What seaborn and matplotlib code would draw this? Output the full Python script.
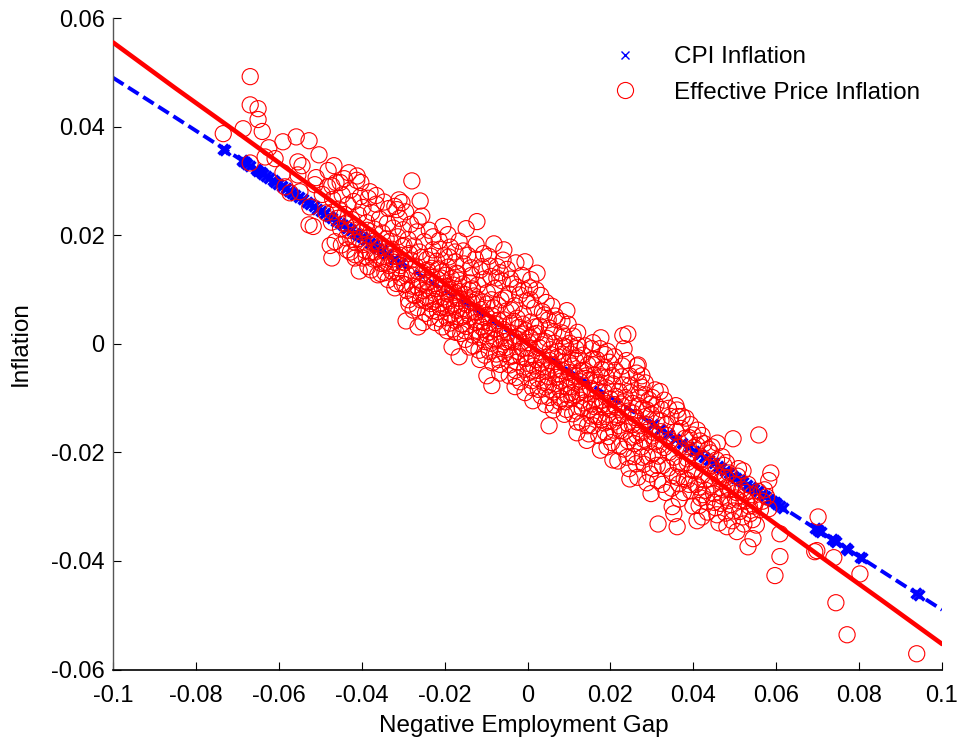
# Phillips-curve style scatter: inflation against the negative employment gap
import pandas as pd
import seaborn as sns
import matplotlib.pyplot as plt
from matplotlib.lines import Line2D

# All values below are in thousandths (0.001)
scale = 0.001

# Fitted lines
cpi_line_x = [-100, -85, -72, -60, -45, -30, -15, 0, 15, 30, 45, 60, 70, 80, 90, 100]
cpi_line_y = [49.0, 41.7, 35.3, 29.4, 22.0, 14.7, 7.4, 0.0, -7.4, -14.7, -22.0, -29.4, -34.3, -39.2, -44.1, -49.0]
eff_line_x = [-100, -85, -70, -55, -40, -25, -10, 0, 10, 25, 40, 55, 70, 85, 100]
eff_line_y = [55.5, 47.1, 38.9, 30.6, 22.2, 13.9, 5.5, 0.0, -5.5, -13.9, -22.2, -30.5, -38.8, -47.0, -55.3]

# CPI inflation points
cpi_x = [-73.4, -72.9, -68.9, -68.6, -68.2, -67.7, -66.9, -65.6, -65.1, -64.4, -63.9, -63.0, -62.4, -61.5,
         -60.8, -60.1, -59.2, -58.3, -57.6, -56.8, -56.0, -55.1, -54.2, -53.3, -52.4, -51.6, -50.7, -49.8,
         -48.9, -48.0, -47.1, -46.2, -45.3, -44.4, -43.5, -42.6, -41.7, -40.8, -39.9, -38.9, -38.0, -37.1,
         -36.2, -35.0, -33.8, -32.1, -30.4, 30.2, 32.0, 33.9, 35.7, 37.3, 38.9, 40.2, 41.5, 42.7, 43.8,
         44.9, 45.9, 46.8, 47.7, 48.6, 49.5, 50.4, 51.2, 52.1, 53.0, 53.9, 54.7, 55.6, 56.5, 57.4,
         58.3, 59.0, 59.6, 60.2, 60.9, 61.6, 69.3, 69.8, 70.3, 70.8, 73.5, 73.9, 74.4, 76.9, 77.3, 80.2, 80.7,
         93.8, 94.4]
cpi_y = [35.9, 35.7, 33.8, 33.6, 33.4, 33.2, 32.8, 32.1, 31.9, 31.6, 31.3, 30.9, 30.6, 30.1,
         29.8, 29.4, 29.0, 28.6, 28.2, 27.8, 27.4, 27.0, 26.6, 26.1, 25.7, 25.3, 24.8, 24.4,
         24.0, 23.5, 23.1, 22.6, 22.2, 21.8, 21.3, 20.9, 20.4, 20.0, 19.6, 19.1, 18.6, 18.2,
         17.7, 17.2, 16.6, 15.7, 14.9, -14.8, -15.7, -16.6, -17.5, -18.3, -19.1, -19.7, -20.3, -20.9, -21.5,
         -22.0, -22.5, -22.9, -23.4, -23.8, -24.3, -24.7, -25.1, -25.5, -26.0, -26.4, -26.8, -27.2, -27.7, -28.1,
         -28.6, -28.9, -29.2, -29.5, -29.8, -30.2, -34.0, -34.2, -34.4, -34.7, -36.0, -36.2, -36.5, -37.7, -37.9, -39.3, -39.5,
         -46.0, -46.3]

# Effective price inflation: outer points
eff_outer = [(-66.9, 49.2), (-66.9, 44.0), (-65.0, 43.3), (-65.0, 41.3), (-64.0, 39.1), (-68.6, 39.6), (-73.4, 38.7),
             (-62.4, 36.1), (-59.0, 37.2), (-55.8, 38.1), (-52.7, 37.4), (-50.3, 34.8), (-60.9, 34.1), (-63.3, 34.4),
             (-66.9, 33.3), (-55.4, 33.5), (-54.4, 32.8), (-59.0, 31.5), (-48.1, 31.9), (-46.7, 32.8), (-43.1, 31.5),
             (-41.1, 30.9), (-27.9, 30.0), (-25.9, 26.3), (-40.2, 29.7), (-51.0, 30.6), (-55.4, 31.1), (-51.3, 29.3),
             (-47.2, 29.1), (-45.2, 29.7), (-54.9, 28.0), (-57.3, 27.8), (-58.5, 28.9), (-52.5, 25.2), (-52.7, 21.9),
             (-51.7, 21.6), (-47.6, 18.1), (-46.4, 18.8), (-47.2, 15.8), (-43.5, 17.3), (-41.6, 16.4), (-41.6, 15.8),
             (-40.6, 13.4), (-38.5, 14.2), (-36.1, 12.7), (-38.0, 28.0), (-36.5, 27.3), (-31.0, 26.5), (-30.3, 26.0),
             (-31.5, 24.7), (-26.4, 22.7), (-20.4, 21.6), (-19.2, 20.1), (-22.8, 19.7), (-17.5, 16.9), (-32.0, 10.3),
             (-34.4, 13.1), (-14.8, 21.2), (-12.2, 22.5), (-8.1, 18.4), (-5.7, 17.3), (-2.8, 14.9), (-0.6, 15.1),
             (0.8, 11.8), (-6.6, 13.1), (-11.0, 14.2), (4.5, 7.6), (9.5, 6.1), (8.3, 4.1), (17.7, 1.1), (23.0, 1.5),
             (24.2, 1.8), (23.3, -0.9), (26.7, -3.9), (27.6, -5.9), (30.8, -8.5), (18.7, -2.0), (15.8, 0.2),
             (-29.3, 4.2), (-26.4, 3.1), (-19.4, 2.4), (-18.2, -0.6), (-16.5, -2.4), (-9.8, -5.9), (-8.6, -7.7),
             (-3.0, -7.9), (-0.6, -9.0), (1.3, -10.5), (5.2, -15.1), (6.2, -12.2), (11.9, -16.4), (-25.2, 3.9),
             (26.4, -4.1), (32.0, -8.8), (49.6, -17.5), (55.8, -16.8), (58.7, -23.8), (58.2, -25.2), (42.1, -16.9),
             (52.0, -23.4), (70.1, -31.9), (60.9, -35.0), (54.4, -35.9), (53.2, -37.4), (69.8, -38.1), (69.3, -38.3),
             (73.9, -39.4), (60.9, -39.2), (59.7, -42.7), (80.2, -42.4), (74.4, -47.7), (77.1, -53.6), (93.9, -57.1),
             (31.5, -33.2), (34.9, -30.0), (35.3, -31.3), (36.1, -33.7), (40.9, -32.6), (42.1, -31.9), (50.5, -34.6),
             (48.1, -33.7), (29.8, -27.6), (24.7, -24.9), (20.6, -21.4), (36.5, -25.8), (45.7, -31.5), (38.5, -25.1),
             (42.3, -27.8), (28.8, -25.6), (36.1, -12.2), (36.3, -13.4), (39.9, -16.8), (44.5, -19.0), (46.9, -20.8)]

# Effective price inflation: body of the cloud
eff_body = [(-49.5, 27.5), (-48.6, 24.1), (-48.2, 28.9), (-47.3, 22.4), (-47.0, 26.6), (-46.2, 29.7), (-45.6, 24.8),
            (-45.1, 21.2), (-44.7, 27.4), (-44.2, 30.4), (-43.7, 19.5), (-43.3, 25.6), (-42.8, 28.3), (-42.4, 22.9),
            (-41.9, 26.2), (-41.6, 18.7), (-41.2, 30.1), (-40.8, 23.7), (-40.3, 27.1), (-40.1, 20.6),
            (-39.7, 25.1), (-39.2, 17.2), (-38.8, 22.3), (-38.4, 26.8), (-38.0, 19.8), (-37.6, 24.2), (-37.2, 15.6),
            (-36.9, 21.1), (-36.5, 25.7), (-36.1, 18.4), (-35.7, 23.0), (-35.3, 14.8), (-35.0, 20.4), (-34.6, 26.1),
            (-34.2, 16.9), (-33.8, 22.2), (-33.5, 24.9), (-33.1, 18.9), (-32.8, 13.4), (-32.4, 21.3), (-32.0, 25.3),
            (-31.7, 16.1), (-31.3, 19.7), (-30.9, 23.1), (-30.6, 12.2), (-30.2, 17.9), (-30.0, 21.0),
            (-29.7, 14.9), (-29.4, 24.3), (-29.1, 9.8), (-28.8, 19.2), (-28.5, 16.6), (-28.2, 22.0), (-27.9, 12.7),
            (-27.6, 6.2), (-27.3, 18.0), (-27.0, 14.3), (-26.7, 20.6), (-26.4, 10.4), (-26.1, 16.9), (-25.8, 8.1),
            (-25.5, 23.5), (-25.2, 13.0), (-24.9, 18.8), (-24.6, 5.6), (-24.3, 15.5), (-24.0, 11.2), (-23.7, 20.9),
            (-23.4, 7.4), (-23.1, 13.9), (-22.8, 17.3), (-22.5, 9.3), (-22.2, 3.9), (-21.9, 15.2), (-21.6, 11.8),
            (-21.3, 19.0), (-21.0, 6.7), (-20.7, 13.2), (-20.4, 8.6), (-20.1, 16.2),
            (-19.8, 10.6), (-19.5, 4.8), (-19.2, 14.1), (-18.9, 7.9), (-18.6, 17.8), (-18.3, 12.0), (-18.0, 2.7),
            (-17.7, 9.5), (-17.4, 15.1), (-17.1, 6.1), (-16.8, 12.9), (-16.5, 18.9), (-16.2, 8.3), (-15.9, 3.6),
            (-15.6, 11.0), (-15.3, 14.7), (-15.0, 0.8), (-14.7, 7.2), (-14.4, 16.3), (-14.1, 9.9), (-13.8, 4.9),
            (-13.5, 12.6), (-13.2, 1.6), (-12.9, 8.8), (-12.6, 15.6), (-12.3, 5.8), (-12.0, 10.8), (-11.7, -1.2),
            (-11.4, 13.6), (-11.1, 3.1), (-10.8, 7.7), (-10.5, 11.9), (-10.2, 0.4), (-10.0, 5.2),
            (-9.7, 9.4), (-9.4, 16.1), (-9.1, 2.2), (-8.8, 12.4), (-8.5, -3.5), (-8.2, 6.6), (-7.9, 10.2),
            (-7.6, 0.9), (-7.3, 14.2), (-7.0, 4.3), (-6.7, -5.4), (-6.4, 8.1), (-6.1, 11.6), (-5.8, 2.6),
            (-5.5, -1.8), (-5.2, 6.0), (-4.9, 13.7), (-4.6, 9.2), (-4.3, -3.9), (-4.0, 3.8), (-3.7, 0.3),
            (-3.4, 11.0), (-3.1, 7.0), (-2.8, -6.2), (-2.5, 4.7), (-2.2, 1.4), (-1.9, 9.0), (-1.6, -2.4),
            (-1.3, 12.6), (-1.0, 5.5), (-0.7, -4.7), (-0.4, 2.4), (-0.1, 7.9),
            (0.2, -0.8), (0.5, 10.3), (0.8, 4.0), (1.1, -6.8), (1.4, 1.7), (1.7, 6.6), (2.0, -2.9), (2.3, 13.0),
            (2.6, -8.4), (2.9, 3.3), (3.2, 8.9), (3.5, -0.2), (3.8, -4.3), (4.1, 5.3), (4.4, -11.2), (4.7, 1.0),
            (5.0, -6.0), (5.3, 2.9), (5.6, -2.0), (5.9, 6.9), (6.2, -8.9), (6.5, 0.1), (6.8, -4.8), (7.1, 4.4),
            (7.4, -1.4), (7.7, -10.6), (8.0, -6.9), (8.3, 2.0), (8.6, -3.4), (8.9, -13.0), (9.2, -0.6), (9.5, -8.0),
            (9.8, 3.6),
            (10.1, -5.3), (10.4, -1.9), (10.7, -10.0), (11.0, 1.4), (11.3, -7.1), (11.6, -3.1), (11.9, -12.4),
            (12.2, -0.3), (12.5, -8.9), (12.8, -5.0), (13.1, -14.6), (13.4, -2.1), (13.7, -10.9), (14.0, -6.4),
            (14.3, -17.8), (14.6, -3.9), (14.9, -12.1), (15.2, -8.2), (15.5, -0.9), (15.8, -15.1), (16.1, -5.8),
            (16.4, -10.1), (16.7, -2.9), (17.0, -13.4), (17.3, -7.6), (17.6, -19.6), (17.9, -4.7), (18.2, -11.2),
            (18.5, -8.9), (18.8, -16.3), (19.1, -6.2), (19.4, -13.0), (19.7, -3.4), (20.0, -10.2),
            (20.3, -18.2), (20.6, -7.4), (20.9, -14.4), (21.2, -4.9), (21.5, -11.8), (21.8, -21.6), (22.1, -8.8),
            (22.4, -16.0), (22.7, -6.1), (23.0, -12.9), (23.3, -19.4), (23.6, -9.9), (23.9, -3.1), (24.2, -14.7),
            (24.5, -23.0), (24.8, -7.6), (25.1, -17.2), (25.4, -11.0), (25.7, -20.8), (26.0, -13.6), (26.3, -5.4),
            (26.6, -24.6), (26.9, -9.2), (27.2, -16.4), (27.5, -19.0), (27.8, -11.9), (28.1, -22.2), (28.4, -7.2),
            (28.7, -14.9), (29.0, -18.1), (29.3, -10.3), (29.6, -24.0), (29.9, -13.0),
            (30.2, -20.3), (30.6, -16.4), (31.0, -11.3), (31.4, -25.2), (31.8, -18.6), (32.2, -14.2), (32.6, -22.4),
            (33.0, -10.4), (33.4, -27.4), (33.8, -16.9), (34.2, -20.0), (34.6, -13.4), (35.0, -24.3), (35.4, -18.4),
            (35.8, -11.4), (36.2, -22.0), (36.6, -28.6), (37.0, -15.6), (37.4, -19.7), (37.8, -24.9), (38.2, -13.7),
            (38.6, -21.2), (39.0, -17.3), (39.4, -27.1), (39.8, -23.3),
            (40.2, -19.1), (40.6, -25.9), (41.0, -15.9), (41.4, -29.8), (41.8, -21.9), (42.2, -24.2), (42.6, -18.4),
            (43.0, -27.0), (43.4, -31.0), (43.8, -22.8), (44.2, -20.1), (44.6, -26.0), (45.0, -29.2), (45.4, -23.6),
            (45.8, -18.3), (46.2, -33.0), (46.6, -25.4), (47.0, -28.1), (47.4, -22.4), (47.8, -31.2), (48.2, -26.4),
            (48.6, -23.8), (49.0, -29.6), (49.4, -32.6), (49.8, -25.9),
            (50.2, -28.4), (50.7, -24.4), (51.2, -30.9), (51.7, -26.8), (52.2, -33.2), (52.7, -28.9), (53.2, -25.9),
            (53.7, -31.3), (54.2, -27.8), (54.7, -29.9), (55.2, -33.4), (55.7, -27.2), (56.2, -30.6), (56.7, -29.0),
            (57.2, -26.9), (57.7, -28.2), (58.2, -30.4)]

# Effective price inflation: the thickest part, close to and under the lines
eff_core = [(-46.9, 24.3), (-45.8, 23.1), (-44.1, 23.8), (-43.0, 20.9), (-42.1, 19.2), (-40.6, 19.4), (-39.5, 18.3),
            (-38.7, 20.9), (-37.9, 16.8), (-37.1, 18.9), (-36.4, 15.7), (-35.6, 17.8), (-34.9, 16.1), (-34.1, 19.3),
            (-33.4, 14.4), (-32.7, 17.4), (-32.1, 15.0), (-31.5, 13.2), (-30.8, 16.3), (-30.3, 11.1), (-29.8, 18.1),
            (-29.2, 12.9), (-28.7, 8.1), (-28.1, 15.4), (-27.7, 10.6), (-27.1, 8.9), (-26.6, 13.4), (-26.2, 11.9),
            (-25.6, 15.9), (-25.1, 9.8), (-24.7, 7.9), (-24.2, 13.6), (-23.8, 9.9), (-23.3, 16.1), (-22.9, 6.1),
            (-22.4, 11.1), (-22.0, 8.2), (-21.5, 13.8), (-21.1, 4.6), (-20.6, 10.4), (-20.2, 6.9), (-19.7, 12.6),
            (-19.3, 9.2), (-18.8, 3.8), (-18.4, 7.1), (-17.9, 10.8), (-17.5, 4.3), (-17.0, 8.4), (-16.6, 11.7),
            (-16.1, 1.9), (-15.7, 6.4), (-15.2, 9.1), (-14.8, 3.2), (-14.3, 5.6), (-13.9, 11.2), (-13.4, 7.6),
            (-13.0, -0.4), (-12.5, 3.9), (-12.1, 8.2), (-11.6, 1.2), (-11.2, 6.3), (-10.7, 4.1), (-10.3, -2.1),
            (-9.8, 7.3), (-9.3, 3.9), (-8.9, 0.1), (-8.4, 5.1), (-7.9, 2.7), (-7.5, -1.9), (-7.1, 7.1),
            (-6.6, -3.8), (-6.2, 1.4), (-5.7, 4.4), (-5.3, -0.7), (-4.8, 2.1), (-4.4, -5.9), (-3.9, 6.2),
            (-3.5, -2.2), (-3.0, 1.0), (-2.6, -3.4), (-2.1, 3.0), (-1.7, -7.0), (-1.2, -0.9), (-0.8, 1.8),
            (-0.3, -2.7), (0.1, -5.4), (0.6, 1.2), (1.0, -2.0), (1.5, -4.1), (1.9, 3.1), (2.4, -6.4), (2.8, -0.7),
            (3.3, -9.6), (3.7, -2.8), (4.2, 0.4), (4.6, -5.0), (5.1, -7.6), (5.5, -1.1), (6.0, -3.9), (6.4, -11.3),
            (6.9, -6.2), (7.3, -2.4), (7.8, -8.4), (8.2, -4.9), (8.7, -0.4), (9.1, -10.7), (9.6, -6.4), (10.0, -3.4),
            (10.5, -7.9), (10.9, -12.9), (11.4, -5.8), (11.8, -9.4), (12.3, -2.6), (12.7, -7.0), (13.2, -11.9),
            (13.6, -4.9), (14.1, -9.1), (14.5, -15.1), (15.0, -6.7), (15.4, -11.1), (15.9, -3.9), (16.3, -13.2),
            (16.8, -8.6), (17.2, -16.9), (17.7, -6.1), (18.1, -10.4), (18.6, -14.6), (19.0, -8.1), (19.5, -17.1),
            (19.9, -12.1), (20.4, -5.9), (20.8, -15.9), (21.3, -9.7), (21.7, -13.6), (22.2, -18.9), (22.6, -11.1),
            (23.1, -7.6), (23.5, -16.1), (24.0, -20.9), (24.4, -12.4), (24.9, -9.0), (25.3, -14.9), (25.8, -18.4),
            (26.2, -22.1), (26.7, -11.4), (27.1, -15.1), (27.6, -8.0), (28.0, -17.6), (28.5, -13.4), (28.9, -20.7),
            (29.4, -15.7), (29.8, -11.1), (30.3, -23.0), (30.7, -18.1), (31.2, -14.0), (31.6, -20.7), (32.1, -16.2),
            (32.5, -25.9), (33.0, -19.1), (33.5, -14.9), (33.9, -22.9), (34.4, -17.9), (34.8, -26.6), (35.3, -20.9),
            (35.8, -16.2), (36.2, -24.6), (36.7, -19.1), (37.1, -22.6), (37.6, -27.4), (38.0, -17.4), (38.5, -21.9),
            (39.0, -25.9), (39.4, -20.1), (39.9, -29.9), (40.4, -23.4), (40.9, -18.7), (41.3, -26.4), (41.8, -28.4),
            (42.3, -21.2), (42.8, -25.1), (43.3, -29.1), (43.8, -24.9), (44.3, -22.4), (44.9, -27.6), (45.4, -30.2),
            (46.0, -24.4), (46.6, -29.4), (47.2, -26.9), (47.8, -24.6), (48.4, -28.9), (49.0, -26.9), (49.7, -30.8),
            (50.4, -27.4), (51.1, -28.9), (51.9, -31.9), (52.7, -27.4), (53.5, -29.9), (54.3, -32.4), (55.1, -29.1),
            # second pass across the middle
            (-24.1, 11.4), (-23.0, 12.2), (-21.9, 10.2), (-20.8, 12.1), (-19.9, 8.2), (-18.7, 10.0), (-17.6, 6.9),
            (-16.4, 9.6), (-15.4, 5.1), (-14.2, 7.9), (-13.3, 10.1), (-12.2, 2.3), (-11.0, 5.0), (-9.9, 1.9),
            (-8.7, 8.1), (-7.7, 3.6), (-6.5, -0.6), (-5.4, 8.4), (-4.5, 0.6), (-3.3, 4.1), (-2.3, -1.4), (-1.1, 3.6),
            (0.3, 0.2), (1.3, -4.9), (2.2, 1.9), (3.4, -3.6), (4.3, -8.0), (5.4, -3.1), (6.3, 2.2), (7.5, -5.6),
            (8.5, -1.9), (9.7, -9.4), (10.8, -4.1), (11.7, -0.9), (12.9, -10.4), (14.2, -5.9), (15.3, -13.3),
            (16.5, -7.1), (17.4, -11.6), (18.7, -4.4), (19.8, -14.3), (20.9, -11.2), (22.0, -15.1), (23.2, -10.7),
            (24.3, -17.9), (25.5, -12.8), (26.4, -16.9), (27.7, -20.9), (28.8, -12.2), (30.0, -17.0), (31.3, -22.4)]

# Effective price inflation: a last fill where the reference is still thicker
eff_fill = [(-44.9, 18.2), (-43.9, 22.1), (-42.7, 16.9), (-41.4, 21.6), (-39.9, 15.8), (-38.9, 16.0), (-37.7, 13.6),
            (-36.8, 16.9), (-35.4, 12.9), (-34.5, 14.9), (-33.6, 11.8), (-32.6, 15.6), (-31.6, 11.1), (-30.6, 14.4),
            (-29.6, 10.9), (-28.6, 7.3), (-27.5, 9.0), (-26.5, 6.6), (-25.4, 11.1), (-24.4, 8.6), (-23.5, 4.9),
            (-22.6, 7.8), (-21.7, 5.9), (-20.5, 3.1), (-19.6, 6.6), (-18.5, 5.4), (-17.3, 2.1), (-16.3, 4.8),
            (-15.1, 2.4), (-14.0, -0.6), (-12.8, 5.9), (-11.5, -2.9), (-10.4, 2.6), (-9.2, -1.4), (-8.0, 0.7),
            (-6.9, -2.9), (-5.6, 0.4), (-4.2, -2.4), (-2.9, -4.9), (-1.5, 0.3), (0.0, -3.6), (1.2, -8.1),
            (2.5, -4.9), (3.9, -7.1), (5.2, -9.9), (6.6, -7.4), (8.1, -10.1), (9.4, -12.1), (10.6, -9.0),
            (12.0, -14.4), (13.3, -8.4), (14.8, -16.6), (16.2, -11.6), (17.8, -14.0), (19.2, -19.0),
            (-21.2, 17.4), (-19.0, 16.0), (-17.2, 13.0), (-15.5, 17.1), (-13.6, 14.0), (-12.4, 18.3), (-10.6, 16.6),
            (-9.0, 14.3), (-7.4, 12.1), (-5.9, 15.4), (-4.1, 11.9), (-2.4, 10.4), (-0.9, 9.9), (0.7, 8.1),
            (2.1, 9.9), (3.6, 5.9), (5.0, 4.4), (6.7, 5.1), (8.8, 1.4), (10.2, 0.1), (12.1, 2.1), (13.9, -0.4),
            (15.6, -2.9), (17.5, -0.9), (19.3, -1.4), (21.0, -2.4), (22.9, -4.1), (24.6, -5.9), (26.8, -7.1),
            (28.3, -9.4), (30.1, -9.9), (32.4, -12.1), (34.0, -11.9), (37.3, -13.4), (39.3, -14.9), (41.6, -17.9),
            (43.6, -19.4), (45.6, -21.4), (48.0, -21.9), (50.9, -23.0)]

eff_points = eff_outer + eff_body + eff_core + eff_fill
df_eff = pd.DataFrame(eff_points, columns=['gap', 'inflation']) * scale
df_cpi = pd.DataFrame({'gap': cpi_x, 'inflation': cpi_y}) * scale
df_cpi_line = pd.DataFrame({'gap': cpi_line_x, 'inflation': cpi_line_y}) * scale
df_eff_line = pd.DataFrame({'gap': eff_line_x, 'inflation': eff_line_y}) * scale

x_ticks = [-0.1, -0.08, -0.06, -0.04, -0.02, 0, 0.02, 0.04, 0.06, 0.08, 0.1]
x_labels = ['-0.1', '-0.08', '-0.06', '-0.04', '-0.02', '0', '0.02', '0.04', '0.06', '0.08', '0.1']
y_ticks = [-0.06, -0.04, -0.02, 0, 0.02, 0.04, 0.06]
y_labels = ['-0.06', '-0.04', '-0.02', '0', '0.02', '0.04', '0.06']

sns.set_style('ticks')
plt.rcParams['font.family'] = ['Liberation Sans', 'DejaVu Sans']

fig = plt.figure(figsize=(9.58, 7.4), dpi=100)
ax = fig.add_axes([113 / 958, 1 - 669.5 / 740, 829 / 958, 651.5 / 740])

# Blue first, the red circles and line go over it
sns.lineplot(data=df_cpi_line, x='gap', y='inflation', ax=ax, color='blue', lw=2.8, sort=False,
             linestyle=(0, (3.2, 1.4)), zorder=2)
sns.scatterplot(data=df_cpi, x='gap', y='inflation', ax=ax, marker='x', color='blue', s=50, linewidth=2.6,
                zorder=3)
sns.scatterplot(data=df_eff, x='gap', y='inflation', ax=ax, marker='o', facecolor='none', edgecolor='red',
                s=135, linewidth=0.8, zorder=4)
sns.lineplot(data=df_eff_line, x='gap', y='inflation', ax=ax, color='red', lw=3.3, sort=False, zorder=5)

ax.set_xlim(-0.1, 0.1)
ax.set_ylim(-0.06, 0.06)
ax.set_xticks(x_ticks)
ax.set_xticklabels(x_labels)
ax.set_yticks(y_ticks)
ax.set_yticklabels(y_labels)
ax.tick_params(axis='both', direction='in', length=6, width=0.8, labelsize=17, colors='black')
ax.tick_params(axis='x', pad=11)
ax.tick_params(axis='y', pad=6)
ax.set_xlabel('Negative Employment Gap', fontsize=17.5, labelpad=6, color='black', x=0.495)
ax.set_ylabel('Inflation', fontsize=17.5, labelpad=14, color='black')
sns.despine(ax=ax)
ax.spines['left'].set_color('#555555')
ax.spines['left'].set_linewidth(1)
ax.spines['bottom'].set_linewidth(1.2)
ax.spines['bottom'].set_color('black')

handles = [Line2D([], [], color='blue', marker='x', ls='none', ms=6, mew=1),
           Line2D([], [], markeredgecolor='red', markerfacecolor='none', marker='o', ls='none', ms=11.6, mew=0.8)]
leg = ax.legend(handles, ['CPI Inflation', 'Effective Price Inflation'], frameon=False, fontsize=17.5,
                loc='upper left', bbox_to_anchor=(0.562, 0.99), handletextpad=1.0, labelspacing=0.55)
for text in leg.get_texts():
    text.set_color('black')

fig.savefig('out.png', dpi=100)
